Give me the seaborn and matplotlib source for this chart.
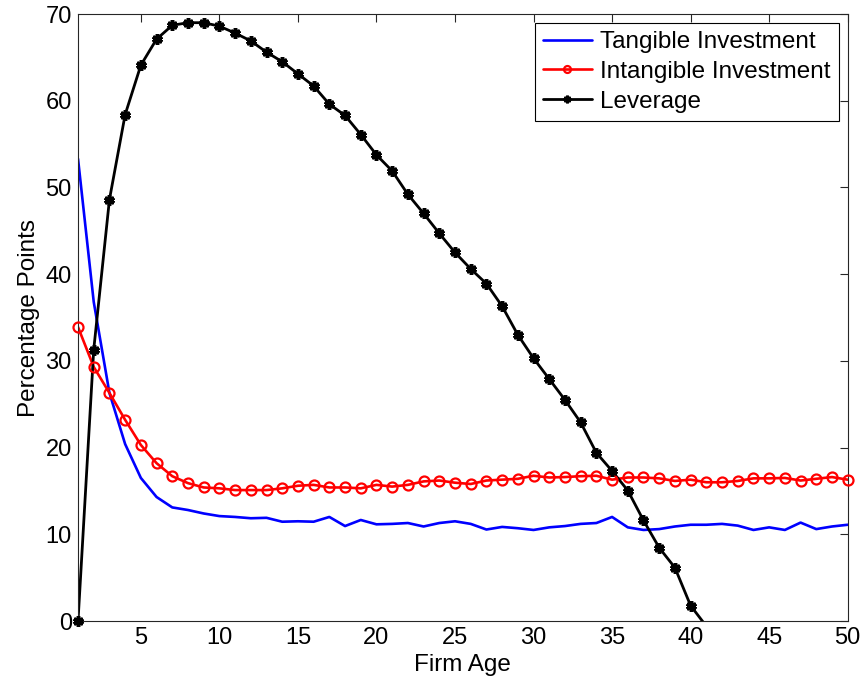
import numpy as np
import pandas as pd
import matplotlib
matplotlib.use("Agg")
import matplotlib.pyplot as plt
from matplotlib.lines import Line2D
import seaborn as sns

# ---- data ----
ages = list(range(1, 51))
tangible = [53.3, 36.8, 26.3, 20.4, 16.5, 14.3, 13.1, 12.8, 12.4, 12.1,
            12.0, 11.85, 11.9, 11.45, 11.5, 11.45, 12.0, 10.95, 11.65, 11.15,
            11.2, 11.3, 10.9, 11.3, 11.5, 11.2, 10.55, 10.85, 10.7, 10.5,
            10.8, 10.95, 11.2, 11.3, 12.0, 10.8, 10.5, 10.6, 10.9, 11.1,
            11.1, 11.2, 11.0, 10.5, 10.8, 10.5, 11.35, 10.6, 10.9, 11.1]
intangible = [33.9, 29.3, 26.3, 23.2, 20.3, 18.2, 16.7, 15.9, 15.4, 15.3,
              15.1, 15.1, 15.1, 15.3, 15.6, 15.7, 15.4, 15.4, 15.3, 15.7,
              15.5, 15.7, 16.1, 16.2, 15.95, 15.8, 16.2, 16.3, 16.4, 16.75,
              16.55, 16.6, 16.7, 16.75, 16.3, 16.55, 16.55, 16.45, 16.15, 16.3,
              16.0, 16.0, 16.15, 16.45, 16.45, 16.5, 16.2, 16.4, 16.6, 16.3]
leverage = [0.0, 31.3, 48.6, 58.4, 64.1, 67.1, 68.7, 69.0, 69.0, 68.6,
            67.8, 66.9, 65.6, 64.5, 63.1, 61.7, 59.6, 58.3, 56.1, 53.75,
            51.9, 49.2, 47.0, 44.7, 42.5, 40.6, 38.9, 36.3, 33.0, 30.3,
            27.9, 25.5, 22.9, 19.4, 17.3, 15.05, 11.6, 8.45, 6.15, 1.77,
            -0.6]
series_names = ["Tangible Investment", "Intangible Investment", "Leverage"]
x_ticks = [5, 10, 15, 20, 25, 30, 35, 40, 45, 50]
y_ticks = [0, 10, 20, 30, 40, 50, 60, 70]
x_label = "Firm Age"
y_label = "Percentage Points"

# ---- style ----
sns.set_style("white")
plt.rcParams["font.family"] = ["Liberation Sans", "DejaVu Sans"]
plt.rcParams["text.color"] = "black"
plt.rcParams["axes.labelcolor"] = "black"
plt.rcParams["xtick.color"] = "black"
plt.rcParams["ytick.color"] = "black"

FS_TICK = 17
FS_LAB = 17.5

fig = plt.figure(figsize=(8.65, 6.84), dpi=100)
ax = fig.add_axes([0.0902, 0.0921, 0.8898, 0.8874])

XMIN, XMAX, YMIN, YMAX = 1, 50, 0, 70

df_t = pd.DataFrame({"age": ages, "value": tangible})
df_i = pd.DataFrame({"age": ages, "value": intangible})
df_l = pd.DataFrame({"age": ages[:len(leverage)], "value": leverage})

blue = (0, 0, 1)
red = (1, 0, 0)
black = (0, 0, 0)

red_marker = dict(marker="o", markersize=7.2, markerfacecolor="none",
                  markeredgecolor=red, markeredgewidth=1.6)
black_marker = dict(marker=(6, 2, 0), markersize=7.5, markerfacecolor=black,
                    markeredgecolor=black, markeredgewidth=2.6)

# lines (clipped to the axes)
sns.lineplot(data=df_t, x="age", y="value", color=blue, lw=1.9, ax=ax,
             legend=False, errorbar=None)
sns.lineplot(data=df_i, x="age", y="value", color=red, lw=1.9, ax=ax,
             legend=False, errorbar=None)
sns.lineplot(data=df_l, x="age", y="value", color=black, lw=2.0, ax=ax,
             legend=False, errorbar=None)

# markers (only points inside the axes range, not clipped at the frame)
def inside(df):
    return df[(df["value"] >= YMIN) & (df["value"] <= YMAX) &
              (df["age"] >= XMIN) & (df["age"] <= XMAX)]

sns.lineplot(data=inside(df_i), x="age", y="value", ax=ax, legend=False,
             errorbar=None, linestyle="none", clip_on=False, zorder=3,
             **red_marker)
sns.lineplot(data=inside(df_l), x="age", y="value", ax=ax, legend=False,
             errorbar=None, linestyle="none", clip_on=False, zorder=4,
             **black_marker)

ax.set_xlim(XMIN, XMAX)
ax.set_ylim(YMIN, YMAX)
ax.set_xticks(x_ticks)
ax.set_yticks(y_ticks)
ax.set_xticklabels([str(v) for v in x_ticks])
ax.set_yticklabels([str(v) for v in y_ticks])

ax.tick_params(axis="both", which="both", direction="in", length=5.5,
               width=0.8, colors="#262626", labelcolor="black",
               labelsize=FS_TICK, top=True, right=True, pad=4.5)
for sp in ax.spines.values():
    sp.set_visible(True)
    sp.set_color("#262626")
    sp.set_linewidth(0.8)

ax.set_xlabel(x_label, fontsize=FS_LAB, labelpad=3.3, color="black")
ax.set_ylabel(y_label, fontsize=FS_LAB, labelpad=4, color="black")

handles = [
    Line2D([], [], color=blue, lw=1.9),
    Line2D([], [], color=red, lw=1.9, **{**red_marker, "markersize": 5}),
    Line2D([], [], color=black, lw=2.0, **{**black_marker, "markersize": 5.5, "markeredgewidth": 2.0}),
]
leg = ax.legend(handles, series_names, loc="upper right", fontsize=FS_LAB,
                frameon=True, fancybox=False, framealpha=1, edgecolor="black",
                borderaxespad=0.35, labelspacing=0.32, handlelength=2.0,
                handletextpad=0.35, borderpad=0.35)
leg.get_frame().set_linewidth(0.8)
for t in leg.get_texts():
    t.set_color("black")

ax.set_facecolor("white")
fig.patch.set_facecolor("white")
fig.savefig("out.png", dpi=100, facecolor="white")
